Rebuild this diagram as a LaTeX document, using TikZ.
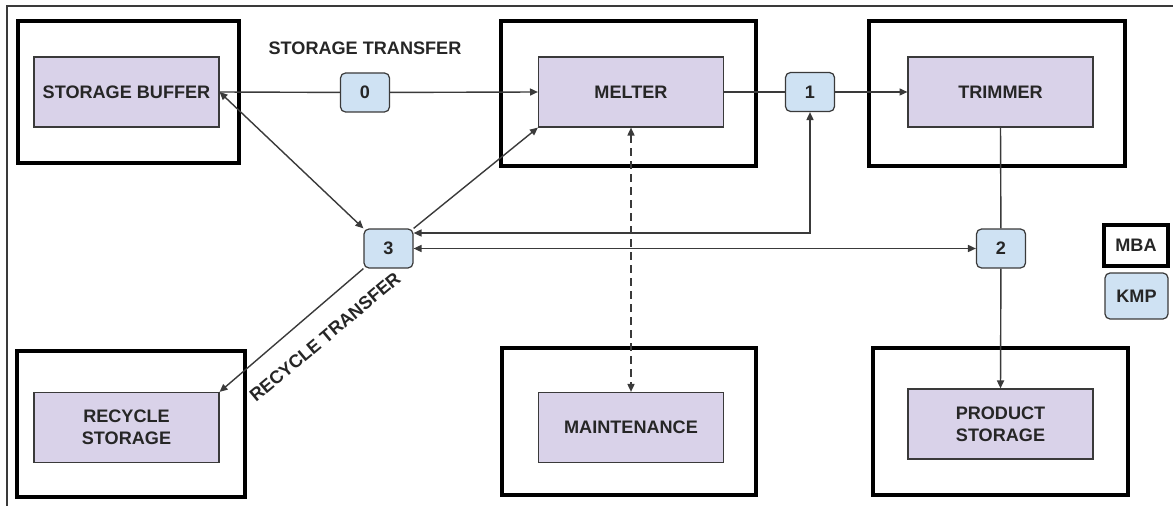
\documentclass[tikz,border=0pt]{standalone}
\usepackage{fontspec}
\setmainfont{Liberation Sans}
\usetikzlibrary{arrows.meta}

\definecolor{areafill}{HTML}{D9D2E9}
\definecolor{kmpfill}{HTML}{CFE2F3}
\definecolor{edgegray}{HTML}{3A3A3A}
\definecolor{labelgray}{HTML}{262626}

\begin{document}
\begin{tikzpicture}[x=0.02cm, y=-0.02cm,
  font=\fontsize{10.3}{12.5}\selectfont\bfseries, text=labelgray,
  >={Triangle[length=4.5pt,width=4pt]},
  mba/.style 2 args={draw=black, line width=2.3pt, minimum width=#1cm, minimum height=#2cm, inner sep=0pt},
  area/.style={draw=edgegray, line width=0.7pt, fill=areafill, minimum width=3.7cm, minimum height=1.4cm, align=center, inner sep=0pt},
  kmp/.style={draw=edgegray, line width=0.7pt, fill=kmpfill, rounded corners=0.1cm, minimum width=0.98cm, minimum height=0.78cm, inner sep=0pt},
  pipe/.style={draw=edgegray, line width=0.8pt}]
  \useasboundingbox (0,0) rectangle (1173,506);

  % page frame
  \draw[edgegray, line width=0.7pt] (7,506) -- (7,6) -- (1173,6);

  % material balance areas
  \node[mba={4.42}{2.84}] (mbaBuffer) at (128.5,92) {};
  \node[mba={5.1}{2.9}] (mbaMelter) at (628.5,93.5) {};
  \node[mba={5.12}{2.9}] (mbaTrimmer) at (997,93.5) {};
  \node[mba={4.56}{2.92}] (mbaRecycle) at (131,424) {};
  \node[mba={5.08}{2.94}] (mbaMaint) at (629,421.5) {};
  \node[mba={5.1}{2.94}] (mbaProduct) at (1000.5,421.5) {};

  % process areas
  \node[area] (buffer) at (126.5,92) {STORAGE BUFFER};
  \node[area] (melter) at (631,92) {MELTER};
  \node[area] (trimmer) at (1000.5,92) {TRIMMER};
  \node[area] (recycle) at (126.5,427.5) {RECYCLE\\STORAGE};
  \node[area] (maint) at (631,427.5) {MAINTENANCE};
  \node[area] (product) at (1000.5,424) {PRODUCT\\STORAGE};

  % key measurement points
  \node[kmp] (k0) at (365,92.5) {0};
  \node[kmp] (k1) at (810,92) {1};
  \node[kmp] (k2) at (1001,248.5) {2};
  \node[kmp] (k3) at (388.5,248.5) {3};

  % legend
  \node[mba={1.28}{0.82}] (legMBA) at (1136,245.5) {MBA};
  \node[kmp, minimum width=1.26cm, minimum height=0.92cm] (legKMP) at (1136.5,296) {KMP};

  % transfer labels
  \node (storeLbl) at (365,48) {STORAGE TRANSFER};
  \node[rotate=40] (recycleLbl) at (325,337) {RECYCLE TRANSFER};

  % flows
  \draw[pipe] (buffer.east) -- (k0);
  \draw[pipe,->] (k0) -- (melter.west);
  \draw[pipe] (melter.east) -- (k1);
  \draw[pipe,->] (k1) -- (trimmer.west);
  \draw[pipe] (trimmer.south) -- (k2);
  \draw[pipe,->] (k2) -- (product.north);
  \draw[pipe,<->] (buffer.east) -- (k3.north west);
  \draw[pipe,->] (k3.north east) -- (melter.south west);
  \draw[pipe,->] (k3.south west) -- (recycle.north east);
  \draw[pipe,<->] ([yshift=0.31cm]k3.east) -| (k1.south);
  \draw[pipe,<->] (k3.east) -- (k2.west);
  \draw[pipe,<->,dash pattern=on 0.16cm off 0.1cm] (melter.south) -- (maint.north);
\end{tikzpicture}
\end{document}
